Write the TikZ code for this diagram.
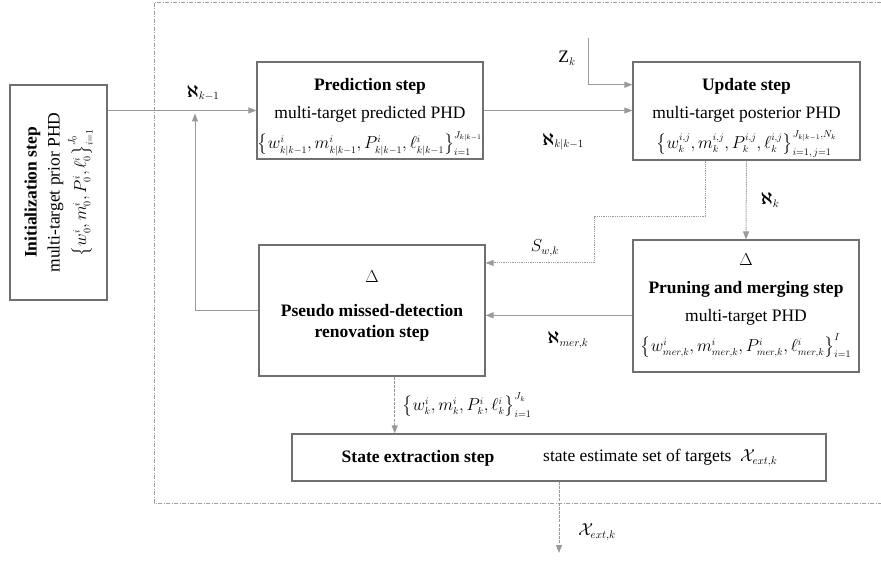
\documentclass[tikz,border=0pt]{standalone}
\usepackage{amsmath}
\usepackage{fontspec}
\setmainfont{Liberation Serif}
\DeclareMathSizes{17.5}{17.5}{10.5}{8}
\DeclareMathSizes{16.5}{16.5}{10}{7.5}
\usetikzlibrary{arrows.meta,calc}
\definecolor{boxgray}{HTML}{707070}
\definecolor{linegray}{HTML}{9A9A9A}
\definecolor{framegray}{HTML}{A0A0A0}
\newcommand{\mlfont}{\fontsize{16.5}{20}\selectfont}
\begin{document}
\begin{tikzpicture}[x=1pt,y=-1pt,
  every node/.style={font=\fontsize{17.5}{21}\selectfont, inner sep=0pt},
  box/.style={draw=boxgray, line width=1.1pt, rectangle, align=center},
  conn/.style={draw=linegray, line width=1pt, -{Triangle[length=8pt,width=6pt,fill=linegray]}},
  dotline/.style={dash pattern=on 1pt off 0.8pt},
  dashline/.style={dash pattern=on 3pt off 1.2pt},
  frame/.style={draw=framegray, line width=0.8pt, dash pattern=on 4pt off 1.5pt on 1pt off 1.5pt}
]
\useasboundingbox (0,0) rectangle (881,561);

% outer dashed frame
\draw[frame] (881,2) -- (154,2) -- (154,503) -- (881,503);

% boxes
\node[box, rotate=90, minimum width=215pt, minimum height=97pt] (init) at (58.5,192.5)
  {\textbf{Initialization step}\\[2pt] multi-target prior PHD\\[4pt]
   {\mlfont$\big\{w_0^i, m_0^i, P_0^i, \ell_0^i\big\}_{i=1}^{J_0}$}};

\node[box, minimum width=226pt, minimum height=97pt] (pred) at (370,110.5)
  {\rule{0pt}{25pt}\textbf{Prediction step}\\[7pt] multi-target predicted PHD\\[8pt]
   {\mlfont$\big\{w_{k|k-1}^i, m_{k|k-1}^i, P_{k|k-1}^i, \ell_{k|k-1}^i\big\}_{i=1}^{J_{k|k-1}}$}};

\node[box, minimum width=227pt, minimum height=98pt] (upd) at (746.5,111)
  {\rule{0pt}{25pt}\textbf{Update step}\\[7pt] multi-target posterior PHD\\[8pt]
   {\mlfont$\big\{w_k^{i,j}, m_k^{i,j}, P_k^{i,j}, \ell_k^{i,j}\big\}_{i=1,\,j=1}^{J_{k|k-1},N_k}$}};

\node[box, minimum width=226pt, minimum height=132pt] (prune) at (746,306)
  {$\Delta$\\[7pt] \textbf{Pruning and merging step}\\[7pt] multi-target PHD\\[7pt]
   {\mlfont$\big\{w_{mer,k}^i, m_{mer,k}^i, P_{mer,k}^i, \ell_{mer,k}^i\big\}_{i=1}^{I}$}};

\node[box, minimum width=226pt, minimum height=131pt] (pseudo) at (372,310.5)
  {$\Delta$\\[13pt] \textbf{Pseudo missed-detection}\\ \textbf{renovation step}\\[-9pt]\mbox{}};

\node[box, minimum width=534pt, minimum height=47pt] (state) at (559,457.5) {};
\node (st1) at (418,458) {\textbf{State extraction step}};
\node[anchor=west] (st2) at (543,458) {state estimate set of targets \ $\mathcal{X}_{ext,k}$};

% coordinates
\coordinate (fb) at (195,113.5);
\coordinate (zt) at (588,38);
\coordinate (sw1) at (594,217);
\coordinate (out) at (559,553);
\coordinate (zin) at ($(upd.north west)!0.235!(upd.south west)$);
\coordinate (swstart) at ($(upd.south west)!0.32!(upd.south east)$);
\coordinate (swend) at ($(pseudo.north east)!0.14!(pseudo.south east)$);
\coordinate (mstart) at ($(prune.north west)!0.57!(prune.south west)$);
\coordinate (pstart) at ($(pseudo.south west)!0.6!(pseudo.south east)$);

% connectors
\draw[conn] (init.south |- pred.west) -- (pred.west);
\draw[conn] (pred.east) -- (upd.west |- pred.east);
\draw[conn] (zt) |- (zin);
\draw[conn, dotline] (upd.south) -- (prune.north);
\draw[conn, dotline] (swstart) |- (sw1) |- (swend);
\draw[conn] (mstart) -- (pseudo.east |- mstart);
\draw[conn] (pseudo.west) -| (fb);
\draw[conn, dashline] (pstart) -- (pstart |- state.north);
\draw[conn, dashline] (state.south) -- (out);

% labels
\node (lk1) at (203,93) {$\boldsymbol{\aleph}_{k-1}$};
\node (lkk) at (563,142) {$\boldsymbol{\aleph}_{k|k-1}$};
\node (lz) at (567,58) {$\mathrm{Z}_k$};
\node (lk) at (770,200) {$\boldsymbol{\aleph}_k$};
\node (lsw) at (545,248) {$S_{w,k}$};
\node (lmer) at (568,340) {$\boldsymbol{\aleph}_{mer,k}$};
\node (lset) at (467,405) {\mlfont$\big\{w_k^i, m_k^i, P_k^i, \ell_k^i\big\}_{i=1}^{J_k}$};
\node (lx) at (597,532) {$\mathcal{X}_{ext,k}$};
\end{tikzpicture}
\end{document}
